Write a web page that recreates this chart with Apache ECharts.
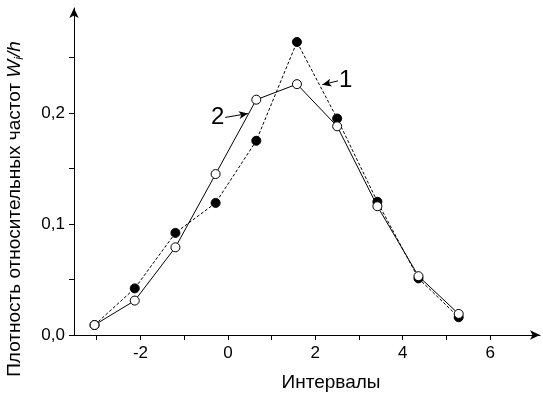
<!DOCTYPE html>
<html>
<head>
<meta charset="utf-8">
<script src="https://cdn.jsdelivr.net/npm/echarts@6/dist/echarts.min.js"></script>
<style>
html,body{margin:0;padding:0;background:#fff;}
#chart{width:543px;height:397px;}
</style>
</head>
<body>
<div id="chart"></div>
<script>
// Interval centres (x)
const intervals = [-3.05, -2.13, -1.2, -0.28, 0.65, 1.58, 2.5, 3.42, 4.36, 5.28];
// Curve 1 (filled circles, dashed)
const series1 = [0.009, 0.042, 0.092, 0.119, 0.175, 0.264, 0.195, 0.120, 0.051, 0.016];
// Curve 2 (open circles, solid)
const series2 = [0.009, 0.031, 0.079, 0.145, 0.212, 0.226, 0.188, 0.116, 0.053, 0.019];
// Axis ticks
const xTicks = [-3, -2, -1, 0, 1, 2, 3, 4, 5, 6];
const xLabels = [-2, 0, 2, 4, 6];
const yTicks = [0, 0.05, 0.1, 0.15, 0.2, 0.25];
const yLabels = [0, 0.1, 0.2];
// Annotation arrows: [from, to]
const note1 = {text: '1', from: [2.52, 0.229], to: [2.16, 0.2255]};
const note2 = {text: '2', from: [-0.06, 0.196], to: [0.46, 0.1995]};

const FONT = 'Liberation Sans, Arial, sans-serif';
const chart = echarts.init(document.getElementById('chart'), null, {renderer: 'canvas'});

function pts(ys) { return intervals.map((x, i) => [x, ys[i]]); }

function noteLine(n) {
  return {
    silent: true,
    animation: false,
    symbol: ['none', 'arrow'],
    symbolSize: [6, 9],
    lineStyle: {color: '#000', width: 1, type: 'solid'},
    label: {
      show: true, position: 'start', distance: 1,
      formatter: n.text, fontSize: 24, color: '#000', fontFamily: FONT
    },
    emphasis: {disabled: true},
    data: [[{coord: n.from}, {coord: n.to}]]
  };
}

chart.setOption({
  animation: false,
  backgroundColor: '#fff',
  grid: {left: 74, right: 3, top: 8, bottom: 62, containLabel: false},
  xAxis: {
    type: 'value', min: -3.52, max: 7.14,
    splitLine: {show: false},
    axisLine: {onZero: false, lineStyle: {color: '#000', width: 1}, symbol: ['none', 'arrow'], symbolSize: [7, 10]},
    axisTick: {show: true, inside: false, length: 5, lineStyle: {color: '#000'}, customValues: xTicks},
    axisLabel: {
      customValues: xLabels, margin: 10, fontSize: 17, color: '#000', fontFamily: FONT,
      formatter: v => String(v)
    }
  },
  yAxis: {
    type: 'value', min: 0, max: 0.2946,
    splitLine: {show: false},
    axisLine: {onZero: false, lineStyle: {color: '#000', width: 1}, symbol: ['none', 'arrow'], symbolSize: [7, 10]},
    axisTick: {show: true, inside: false, length: 5, lineStyle: {color: '#000'}, customValues: yTicks},
    axisLabel: {
      customValues: yLabels, margin: 9, fontSize: 17, color: '#000', fontFamily: FONT,
      formatter: v => v.toFixed(1).replace('.', ',')
    }
  },
  graphic: [{
    type: 'text',
    x: 15, y: 209,
    rotation: Math.PI / 2,
    style: {
      text: 'Плотность относительных частот {it|W}{sub|i}{it|/h}',
      font: '19px ' + FONT,
      fill: '#000',
      align: 'center',
      verticalAlign: 'middle',
      rich: {
        it: {fontStyle: 'italic', fontSize: 19, fontFamily: FONT},
        sub: {fontStyle: 'italic', fontSize: 12, fontFamily: FONT, verticalAlign: 'bottom', padding: [9, 0, 0, 0]}
      }
    }
  }, {
    type: 'text',
    x: 331, y: 383,
    style: {
      text: 'Интервалы',
      font: '19px ' + FONT,
      fill: '#000',
      align: 'center',
      verticalAlign: 'middle'
    }
  }],
  series: [
    {
      name: '1', type: 'line', data: pts(series1),
      symbol: 'circle', symbolSize: 9,
      itemStyle: {color: '#000', borderColor: '#000', borderWidth: 1},
      lineStyle: {color: '#000', width: 1, type: [3, 2]},
      emphasis: {disabled: true},
      markLine: noteLine(note1),
      z: 2
    },
    {
      name: '2', type: 'line', data: pts(series2),
      symbol: 'circle', symbolSize: 9,
      itemStyle: {color: '#fff', borderColor: '#000', borderWidth: 1},
      lineStyle: {color: '#000', width: 1, type: 'solid'},
      emphasis: {disabled: true},
      markLine: noteLine(note2),
      z: 3
    }
  ]
});
</script>
</body>
</html>
